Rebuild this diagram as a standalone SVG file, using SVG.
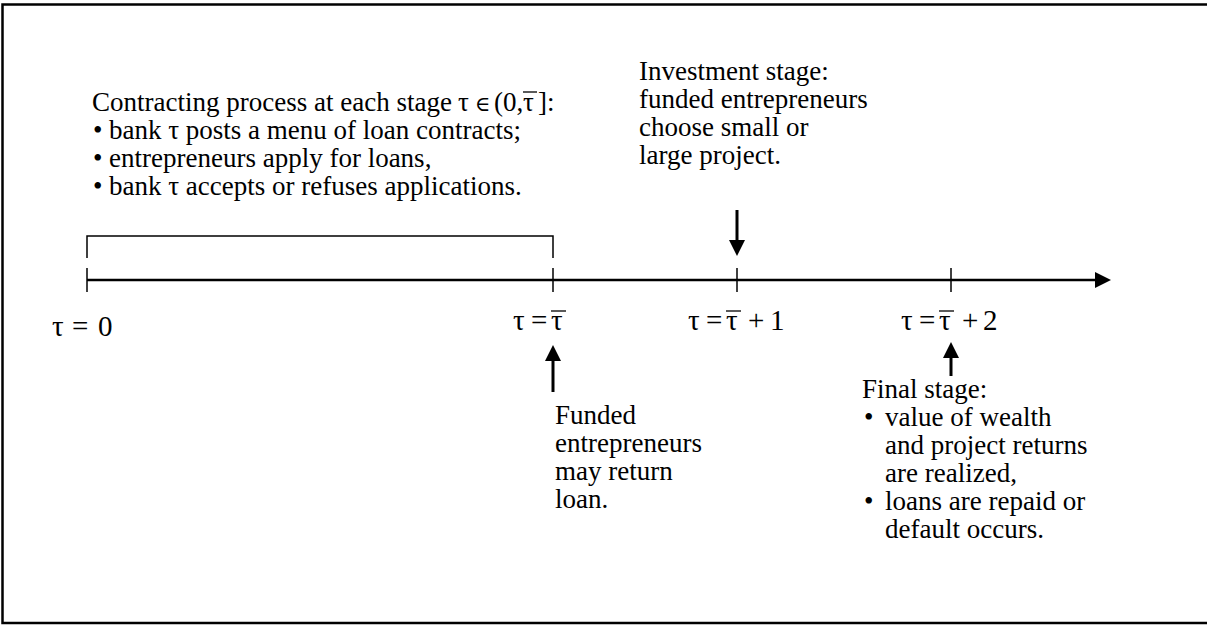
<svg xmlns="http://www.w3.org/2000/svg" width="1207" height="630" viewBox="0 0 1207 630">
<defs>
<style>
.t{font-family:"Liberation Serif","Times New Roman",serif;font-size:27px;fill:#000}
.m{font-family:"Liberation Serif","Times New Roman",serif;font-size:29px;fill:#000}
.sym{font-family:"DejaVu Serif",serif;font-size:21px}
.ln{stroke:#000;fill:none}
.bar{stroke:#000;stroke-width:1.3}
</style>
<marker id="ah" markerWidth="16" markerHeight="16" refX="0" refY="8" orient="auto" markerUnits="userSpaceOnUse" viewBox="0 0 16 16"><path d="M0,0 L16,8 L0,16 Z" fill="#000"/></marker>
</defs>
<rect x="0" y="0" width="1207" height="630" fill="#fff"/>
<rect x="2.5" y="4.5" width="1215" height="618.5" class="ln" stroke-width="2.5"/>
<g id="contracting">
<text class="t" x="92" y="111">Contracting process at each stage</text>
<text class="t" y="111"><tspan x="458">τ</tspan><tspan class="sym" x="475">∈</tspan><tspan x="494">(0,</tspan><tspan x="523">τ</tspan><tspan x="538">]:</tspan></text>
<line class="bar" x1="523" y1="92" x2="537" y2="92"/>
<text class="t" y="139"><tspan x="93">•</tspan><tspan x="109">bank τ posts a menu of loan contracts;</tspan></text>
<text class="t" y="167"><tspan x="93">•</tspan><tspan x="109">entrepreneurs apply for loans,</tspan></text>
<text class="t" y="195"><tspan x="93">•</tspan><tspan x="109">bank τ accepts or refuses applications.</tspan></text>
</g>
<g id="investment">
<text class="t" x="639" y="80">Investment stage:</text>
<text class="t" x="639" y="108">funded entrepreneurs</text>
<text class="t" x="639" y="136">choose small or</text>
<text class="t" x="639" y="164">large project.</text>
</g>
<g id="labels">
<text class="m" y="336"><tspan x="52">τ</tspan><tspan x="72">=</tspan><tspan x="98">0</tspan></text>
<text class="m" y="330"><tspan x="513">τ</tspan><tspan x="531">=</tspan><tspan x="551">τ</tspan></text>
<line class="bar" x1="551" y1="311" x2="566" y2="311"/>
<text class="m" y="330"><tspan x="688">τ</tspan><tspan x="706">=</tspan><tspan x="726">τ</tspan><tspan x="748">+</tspan><tspan x="770">1</tspan></text>
<line class="bar" x1="726" y1="311" x2="741" y2="311"/>
<text class="m" y="330"><tspan x="901">τ</tspan><tspan x="919">=</tspan><tspan x="939">τ</tspan><tspan x="962">+</tspan><tspan x="983">2</tspan></text>
<line class="bar" x1="939" y1="311" x2="954" y2="311"/>
</g>
<g id="funded">
<text class="t" x="555" y="424">Funded</text>
<text class="t" x="555" y="452">entrepreneurs</text>
<text class="t" x="555" y="480">may return</text>
<text class="t" x="555" y="508">loan.</text>
</g>
<g id="final">
<text class="t" x="862" y="398">Final stage:</text>
<text class="t" y="426"><tspan x="864">•</tspan><tspan x="885">value of wealth</tspan></text>
<text class="t" x="885" y="454">and project returns</text>
<text class="t" x="885" y="482">are realized,</text>
<text class="t" y="510"><tspan x="864">•</tspan><tspan x="885">loans are repaid or</tspan></text>
<text class="t" x="885" y="538">default occurs.</text>
</g>
<g id="connectors">
<line class="ln" x1="87" y1="280" x2="1095" y2="280" stroke-width="2.5" marker-end="url(#ah)"/>
<path class="ln" d="M87,258 V236 H553 V258" stroke-width="1.5"/>
<line class="ln" x1="87" y1="268" x2="87" y2="292" stroke-width="1.5"/>
<line class="ln" x1="553" y1="268" x2="553" y2="292" stroke-width="1.5"/>
<line class="ln" x1="737" y1="268" x2="737" y2="292" stroke-width="1.5"/>
<line class="ln" x1="951" y1="268" x2="951" y2="292" stroke-width="1.5"/>
<line class="ln" x1="737" y1="210" x2="737" y2="240" stroke-width="3" marker-end="url(#ah)"/>
<line class="ln" x1="553" y1="392" x2="553" y2="361" stroke-width="3" marker-end="url(#ah)"/>
<line class="ln" x1="951" y1="376" x2="951" y2="358" stroke-width="3" marker-end="url(#ah)"/>
</g>
</svg>
